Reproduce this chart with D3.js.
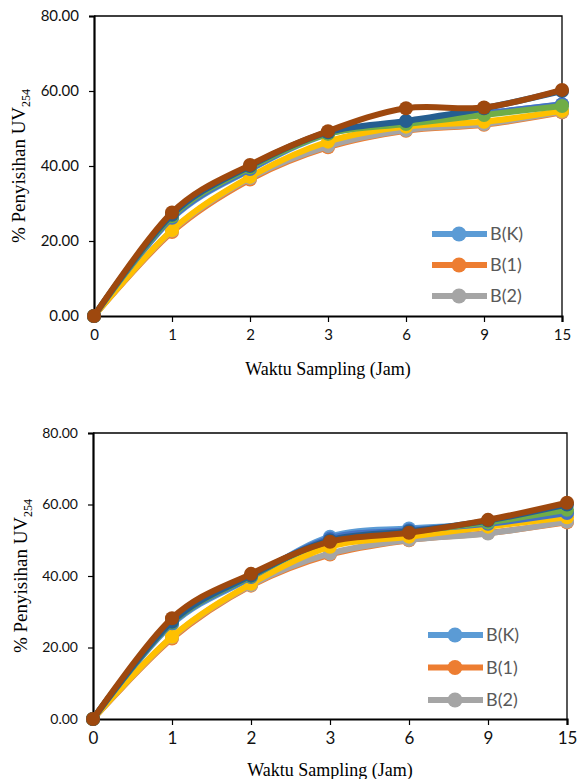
<!DOCTYPE html>
<html lang="id">
<head>
<title>Penyisihan UV254 vs Waktu Sampling</title>
<meta charset="utf-8">
<script src="https://cdn.jsdelivr.net/npm/d3@7"></script>
</head>
<body style="margin:0;background:#fff">
<div id="uvchart"></div>
<script>
// x categories (hours) and y ticks
const categories = ['0', '1', '2', '3', '6', '9', '15'];
const yTicks = [0, 20, 40, 60, 80];
const legendNames = ['B(K)', 'B(1)', 'B(2)'];

// upper chart
const topBK = [0, 26.0, 39.0, 48.5, 51.5, 54.0, 56.4];
const topB1 = [0, 22.4, 36.4, 45.0, 49.4, 51.0, 54.3];
const topB2 = [0, 22.8, 36.8, 45.3, 49.6, 51.2, 54.5];
const topS4 = [0, 22.9, 37.1, 46.5, 50.5, 51.8, 54.7];
const topS5 = [0, 26.2, 39.2, 48.7, 51.6, 54.0, 56.5];
const topS6 = [0, 26.6, 39.6, 48.6, 51.2, 53.6, 56.0];
const topS7 = [0, 27.0, 40.0, 49.0, 52.0, 55.4, 60.0];
const topS8 = [0, 27.6, 40.3, 49.3, 55.4, 55.6, 60.3];

// lower chart
const botBK = [0, 26.5, 39.5, 51.0, 53.3, 54.5, 57.5];
const botB1 = [0, 22.5, 37.3, 46.0, 50.0, 52.0, 55.0];
const botB2 = [0, 22.9, 37.5, 46.3, 50.1, 51.9, 55.2];
const botS4 = [0, 23.0, 37.8, 48.2, 51.0, 53.8, 56.4];
const botS5 = [0, 26.8, 39.7, 50.5, 52.8, 54.6, 57.6];
const botS6 = [0, 27.0, 39.9, 49.8, 52.4, 55.0, 58.5];
const botS7 = [0, 27.2, 40.1, 50.0, 52.5, 55.5, 60.0];
const botS8 = [0, 28.2, 40.6, 49.6, 52.1, 55.7, 60.5];

const colors = ['#5B9BD5', '#ED7D31', '#A5A5A5', '#FFC000', '#4472C4', '#70AD47', '#255E91', '#9E480E'];

const svg = d3.select('#uvchart')
  .append('svg')
  .attr('width', 588)
  .attr('height', 779);

function drawChart(cfg, series) {
  const x = d3.scalePoint()
    .domain(categories)
    .range([cfg.left, cfg.right])
    .padding(0);

  const y = d3.scaleLinear()
    .domain([0, 80])
    .range([cfg.bottom, cfg.top]);

  const g = svg.append('g');

  // plot area border (top + right)
  g.append('path')
    .attr('d', `M${cfg.left},${cfg.top}H${cfg.right}V${cfg.bottom}`)
    .attr('fill', 'none')
    .attr('stroke', '#000')
    .attr('stroke-width', 1.3);

  const yAxis = g.append('g')
    .attr('transform', `translate(${cfg.left},0)`)
    .call(d3.axisLeft(y).tickValues(yTicks).tickSize(5).tickPadding(10)
      .tickFormat(d3.format('.2f')));
  yAxis.select('.domain').attr('stroke-width', 2.2);
  yAxis.selectAll('.tick line').attr('stroke-width', 1.2);
  yAxis.selectAll('text')
    .attr('font-family', 'Lato')
    .attr('font-size', cfg.yFont)
    .attr('fill', '#111');

  const xAxis = g.append('g')
    .attr('transform', `translate(0,${cfg.bottom})`)
    .call(d3.axisBottom(x).tickSize(6).tickPadding(cfg.xPad));
  xAxis.select('.domain').attr('stroke-width', 2.2);
  xAxis.selectAll('.tick line').attr('stroke-width', 1.2);
  xAxis.selectAll('text')
    .attr('font-family', 'Lato')
    .attr('font-size', cfg.xFont)
    .attr('fill', '#111');

  // axis titles
  g.append('text')
    .attr('x', (cfg.left + cfg.right) / 2)
    .attr('y', cfg.xTitleY)
    .attr('text-anchor', 'middle')
    .attr('font-family', 'Liberation Serif')
    .attr('font-size', 18)
    .attr('fill', '#000')
    .text('Waktu Sampling (Jam)');

  const yt = g.append('text')
    .attr('transform', `translate(${cfg.yTitleX},${(cfg.top + cfg.bottom) / 2}) rotate(-90)`)
    .attr('text-anchor', 'middle')
    .attr('font-family', 'Liberation Serif')
    .attr('font-size', 19)
    .attr('fill', '#000');
  yt.append('tspan').text('% Penyisihan UV');
  yt.append('tspan')
    .attr('font-size', 12)
    .attr('dy', 5)
    .text('254');

  const line = d3.line()
    .curve(d3.curveCatmullRom.alpha(0))
    .x((d, i) => x(categories[i]))
    .y(d => y(d));

  series.forEach((values, k) => {
    const sg = g.append('g');
    sg.append('path')
      .datum(values)
      .attr('fill', 'none')
      .attr('stroke', colors[k])
      .attr('stroke-width', 6)
      .attr('stroke-linejoin', 'round')
      .attr('d', line);
    sg.selectAll('circle')
      .data(values)
      .enter()
      .append('circle')
      .attr('cx', (d, i) => x(categories[i]))
      .attr('cy', d => y(d))
      .attr('r', 7)
      .attr('fill', colors[k]);
  });

  // legend, only the first three entries are shown
  const lg = g.append('g');
  legendNames.forEach((name, k) => {
    const ly = cfg.legendY + k * cfg.legendStep;
    lg.append('line')
      .attr('x1', cfg.legendX)
      .attr('x2', cfg.legendX + 55)
      .attr('y1', ly)
      .attr('y2', ly)
      .attr('stroke', colors[k])
      .attr('stroke-width', 6);
    lg.append('circle')
      .attr('cx', cfg.legendX + 27)
      .attr('cy', ly)
      .attr('r', 7.5)
      .attr('fill', colors[k]);
    lg.append('text')
      .attr('x', cfg.legendX + 58)
      .attr('y', ly)
      .attr('dy', '0.36em')
      .attr('font-family', 'Lato')
      .attr('font-size', 18)
      .attr('fill', '#595959')
      .text(name);
  });
}

drawChart({
  left: 94, right: 562, top: 16, bottom: 316,
  yFont: 15, xFont: 15, xPad: 7,
  xTitleY: 375, yTitleX: 25,
  legendX: 432, legendY: 234, legendStep: 31,
}, [topBK, topB1, topB2, topS4, topS5, topS6, topS7, topS8]);

drawChart({
  left: 93, right: 567, top: 433, bottom: 719,
  yFont: 14, xFont: 17, xPad: 7,
  xTitleY: 776, yTitleX: 27,
  legendX: 428, legendY: 635, legendStep: 32.5,
}, [botBK, botB1, botB2, botS4, botS5, botS6, botS7, botS8]);
</script>
</body>
</html>
